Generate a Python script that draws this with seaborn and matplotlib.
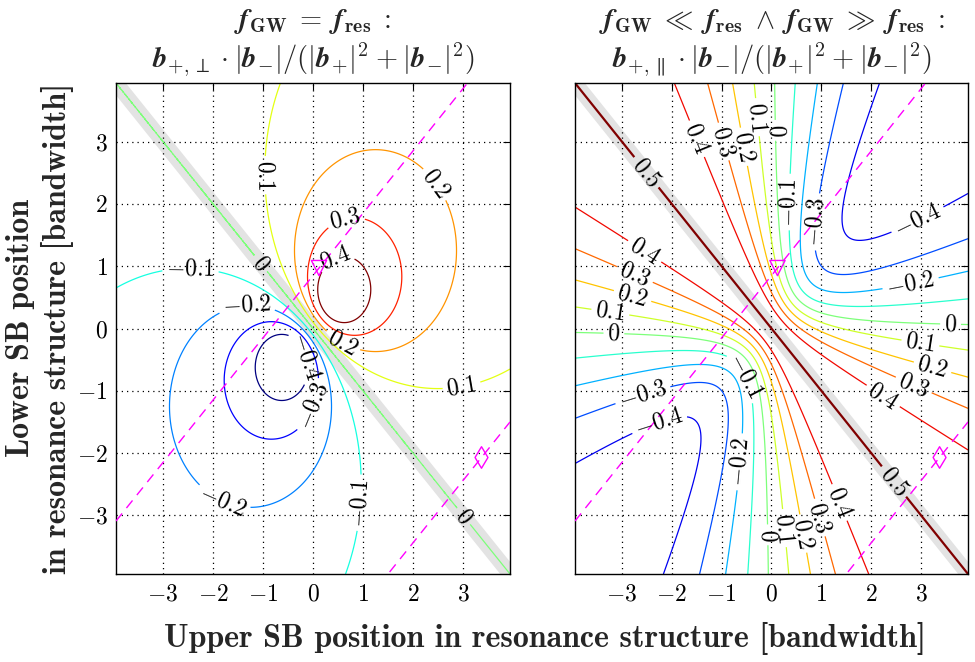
import numpy as np
import pandas as pd
import matplotlib
matplotlib.use("Agg")
import matplotlib.pyplot as plt
import seaborn as sns

# ---- chart values -------------------------------------------------------
AX_LIM = 3.94                      # both axes run over +/- AX_LIM bandwidths
TICKS = [-3, -2, -1, 0, 1, 2, 3]
LEVELS = [-0.4, -0.3, -0.2, -0.1, 0.0, 0.1, 0.2, 0.3, 0.4]
RIDGE_VALUE = 0.5                  # maximum of the parallel component
SWEEP_OFFSETS = [0.85, -5.44]      # lower SB = upper SB + offset
MARKER_UPPER = [0.12, 3.37]        # upper-SB position of each operating point
MARKER_SHAPES = ["v", "d"]

_F = r"\boldsymbol{f}"
_GW = r"_{\mathbf{GW}}"
_RES = r"_{\mathbf{res}}"
_DEN = (r"\:\mathbf{\cdot}\:|\boldsymbol{b}_{-}|\mathbf{/(}|\boldsymbol{b}_{+}|^{\mathbf{2}}"
        r"\:\mathbf{+}\:|\boldsymbol{b}_{-}|^{\mathbf{2}}\mathbf{)}")
TITLE_TOP = [
    "$" + _F + _GW + r"\;\mathbf{=}\;" + _F + _RES + r"\;\mathbf{:}$",
    "$" + _F + _GW + r"\;\ll\;" + _F + _RES + r"\;\wedge\;" + _F + _GW
    + r"\;\gg\;" + _F + _RES + r"\;\mathbf{:}$",
]
TITLE_BOTTOM = [
    r"$\boldsymbol{b}_{+,\perp}" + _DEN + "$",
    r"$\boldsymbol{b}_{+,\parallel}" + _DEN + "$",
]
XLABEL = "Upper SB position in resonance structure [bandwidth]"
YLABEL = ["Lower SB position", "in resonance structure [bandwidth]"]

# where the contour labels sit (data coordinates)
LABELS_PERP = [(-1.02, 2.46), (2.45, 2.32), (0.65, 1.76), (0.48, 1.07),
               (-1.05, 1.04), (-2.45, 0.93), (-1.32, 0.32), (0.61, -0.19),
               (-0.13, -0.45), (0.02, -1.25), (2.98, -0.96), (1.01, -2.8),
               (-1.82, -2.8), (3.05, -2.99)]
LABELS_PAR = [(-1.51, 3.04), (-1.01, 2.99), (-0.6, 2.91), (-0.3, 3.39),
              (0.03, 3.18), (0.33, 2.03), (0.91, 1.71), (2.92, 1.76),
              (-2.55, 1.23), (-2.76, 0.83), (-2.79, 0.51), (-3.23, 0.27),
              (-3.16, -0.08), (2.79, 0.72), (3.59, 0.05), (2.99, -0.21),
              (3.23, -0.62), (2.85, -0.91), (2.25, -1.07), (-0.57, -0.78),
              (-2.59, -1.04), (-2.25, -1.52), (-0.64, -2.14), (1.34, -2.8),
              (0.94, -3.04), (0.64, -3.29), (0.3, -3.2), (0.03, -3.31)]
LABELS_RIDGE = [(-2.55, 2.48), (2.45, -2.46)]

# ---- sideband responses of the resonance -----------------------------------
def resonance(delta):
    """Single-pole response, detuning delta in bandwidths."""
    return 1.0 / (1.0 + 2j * delta)

grid_axis = np.linspace(-AX_LIM, AX_LIM, 901)
UP, LO = np.meshgrid(grid_axis, grid_axis)
b_plus = resonance(UP)
b_minus = resonance(-LO)
cross = b_plus * np.conj(b_minus)
norm = np.abs(b_plus) ** 2 + np.abs(b_minus) ** 2
perp = -cross.imag / norm
par = cross.real / norm
# signed distance from the maximum; its zero set is the RIDGE_VALUE contour
ridge = np.copysign(np.sqrt(np.clip(RIDGE_VALUE - par, 0, None)), UP + LO)

# ---- style ----------------------------------------------------------------
sns.set_theme(style="white")
plt.rcParams.update({
    "font.family": ["cmr10", "DejaVu Serif"],
    "mathtext.fontset": "cm",
    "axes.unicode_minus": True,
    "axes.edgecolor": "black",
    "axes.linewidth": 1.0,
    "xtick.direction": "in",
    "ytick.direction": "in",
    "xtick.top": True,
    "ytick.right": True,
    "xtick.major.size": 5,
    "ytick.major.size": 5,
    "xtick.major.width": 0.8,
    "ytick.major.width": 0.8,
    "xtick.color": "black",
    "ytick.color": "black",
})
jet = matplotlib.colormaps["jet"]
LABEL_FS = 17
TITLE_FS = 20.5
AXLABEL_FS = 23
BOLD_SERIF = ["cmb10", "DejaVu Serif"]


def fmt_level(v):
    if abs(v) < 1e-9:
        return r"$0$"
    return r"$%.1f$" % v


fig = plt.figure(figsize=(9.75, 6.62), dpi=100)
W, H = 975.0, 662.0
ax_boxes = [(116, 510), (575, 968)]
top_px, bot_px = 83, 574
axes = []
for (l, r) in ax_boxes:
    axes.append(fig.add_axes([l / W, 1 - bot_px / H, (r - l) / W, (bot_px - top_px) / H]))

panels = [
    dict(field=perp, vmin=-0.4, vmax=0.4, labels=LABELS_PERP),
    dict(field=par, vmin=-0.5, vmax=0.5, labels=LABELS_PAR),
]

for i, (ax, p) in enumerate(zip(axes, panels)):
    # light band along the anti-diagonal (symmetric sideband placement)
    diag = pd.DataFrame({"u": grid_axis, "l": -grid_axis})
    sns.lineplot(data=diag, x="u", y="l", ax=ax, color="#e3e3e3",
                 linewidth=11, solid_capstyle="butt", zorder=0.3,
                 legend=False, sort=False)

    cs = ax.contour(UP, LO, p["field"], levels=LEVELS, cmap=jet,
                    vmin=p["vmin"], vmax=p["vmax"], linewidths=0.9, zorder=2)
    ax.clabel(cs, fmt=fmt_level, fontsize=LABEL_FS, inline=True,
              inline_spacing=4, manual=p["labels"], colors="black")

    if i == 1:
        rc = ax.contour(UP, LO, ridge, levels=[0.0], colors=[jet(1.0)],
                        linewidths=1.6, zorder=2)
        ax.clabel(rc, fmt={0.0: r"$%.1f$" % RIDGE_VALUE}, fontsize=LABEL_FS,
                  inline=True, inline_spacing=4, manual=LABELS_RIDGE,
                  colors="black")

    # sweep lines of the two operating points
    for off, mu, shape in zip(SWEEP_OFFSETS, MARKER_UPPER, MARKER_SHAPES):
        sweep = pd.DataFrame({"u": grid_axis, "l": grid_axis + off})
        sns.lineplot(data=sweep, x="u", y="l", ax=ax, color="#ff00ff",
                     linewidth=1.0, zorder=3, legend=False,
                     sort=False).lines[-1].set_dashes((7, 5))
        sns.scatterplot(x=[mu], y=[mu + off], ax=ax, marker=shape, s=120,
                        facecolor="none", edgecolor="#ff00ff", linewidth=1.0,
                        zorder=4, legend=False)

    ax.set_xlim(-AX_LIM, AX_LIM)
    ax.set_ylim(-AX_LIM, AX_LIM)
    ax.set_xticks(TICKS)
    ax.set_yticks(TICKS)
    ax.set_xticklabels([r"$%d$" % t for t in TICKS], fontsize=LABEL_FS)
    ax.set_yticklabels([r"$%d$" % t for t in TICKS] if i == 0 else [],
                       fontsize=LABEL_FS)
    ax.tick_params(axis="x", pad=7)
    ax.tick_params(axis="y", pad=6)
    ax.set_xlabel("")
    ax.set_ylabel("")
    ax.grid(True, color="black", linestyle=(0, (1, 3.2)), linewidth=0.9)
    ax.set_axisbelow(True)
    for s in ax.spines.values():
        s.set_visible(True)
        s.set_color("black")

    cx = (ax_boxes[i][0] + ax_boxes[i][1]) / 2 / W
    fig.text(cx, 1 - 21 / H, TITLE_TOP[i], ha="center", va="center", fontsize=TITLE_FS)
    fig.text(cx, 1 - 60 / H, TITLE_BOTTOM[i], ha="center", va="center", fontsize=TITLE_FS)

fig.text(545 / W, 1 - 638 / H, XLABEL, ha="center", va="center",
         fontsize=AXLABEL_FS, family=BOLD_SERIF)
fig.text(21 / W, 1 - 328 / H, YLABEL[0], ha="center", va="center",
         rotation=90, fontsize=AXLABEL_FS, family=BOLD_SERIF)
fig.text(57 / W, 1 - 328 / H, YLABEL[1], ha="center", va="center",
         rotation=90, fontsize=AXLABEL_FS, family=BOLD_SERIF)

fig.savefig("out.png", dpi=100, facecolor="white")
